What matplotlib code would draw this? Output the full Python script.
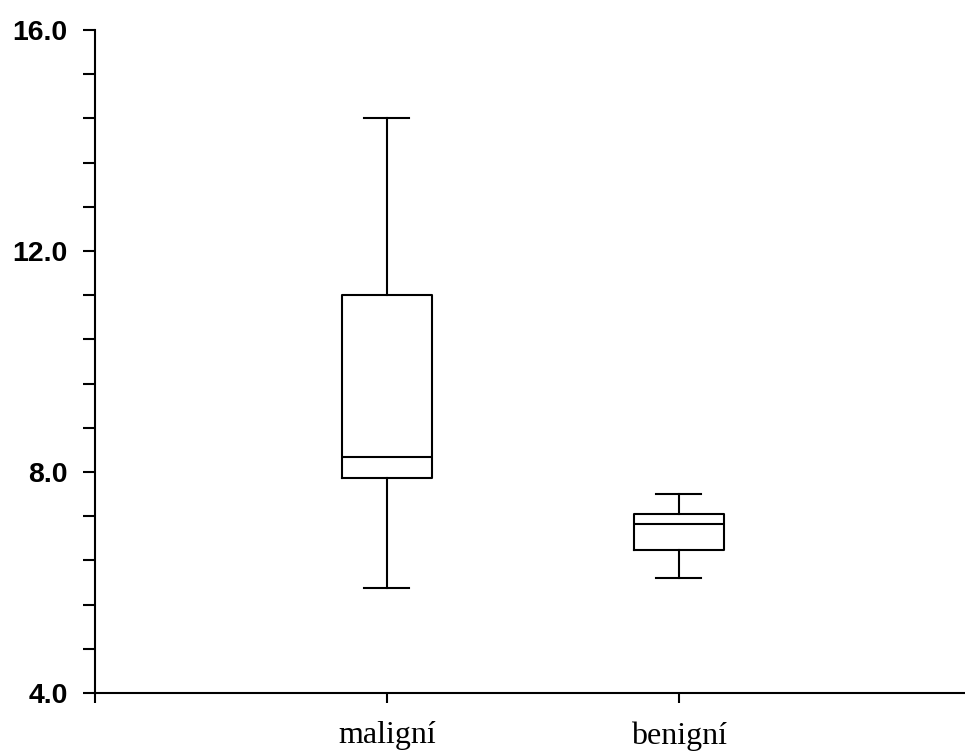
import numpy as np
import matplotlib
matplotlib.use("Agg")
import matplotlib.pyplot as plt
from matplotlib.ticker import MultipleLocator

# — DATA —
groups   = ["maligní", "benigní"]
whislo   = [5.90, 6.08]
q1       = [7.89, 6.59]
med      = [8.27, 7.06]
q3       = [11.20, 7.24]
whishi   = [14.41, 7.60]
y_ticks  = [4.0, 8.0, 12.0, 16.0]

stats = [dict(label=g, whislo=lo, q1=a, med=m, q3=b, whishi=hi)
         for g, lo, a, m, b, hi in zip(groups, whislo, q1, med, q3, whishi)]

fig = plt.figure(figsize=(9.65, 7.51), dpi=100)
ax = fig.add_axes([0.0984, 0.0772, 0.9016, 0.8828])

lw = 1.5
line = dict(color="black", linewidth=lw)
ax.bxp(stats, positions=[1, 2], widths=0.308, showfliers=False,
       boxprops=line, whiskerprops=line, capprops=line,
       medianprops=line, manage_ticks=False)

ax.set_xlim(0, 2.98)
ax.set_ylim(4.0, 16.0)

for s in ["top", "right"]:
    ax.spines[s].set_visible(False)
for s in ["left", "bottom"]:
    ax.spines[s].set_linewidth(lw)

ax.set_yticks(y_ticks)
ax.set_yticklabels([f"{v:.1f}" for v in y_ticks], fontsize=20.5,
                   fontweight="bold", family="Liberation Sans")
ax.yaxis.set_minor_locator(MultipleLocator(0.8))
ax.tick_params(axis="y", which="both", direction="out", length=8.5,
               width=lw, pad=11)

ax.set_xticks([0, 1, 2])
ax.set_xticklabels([""] + groups, fontsize=23, family="Liberation Serif")
ax.tick_params(axis="x", direction="out", length=7.5, width=lw, pad=13)

fig.savefig("out.png", dpi=100)
